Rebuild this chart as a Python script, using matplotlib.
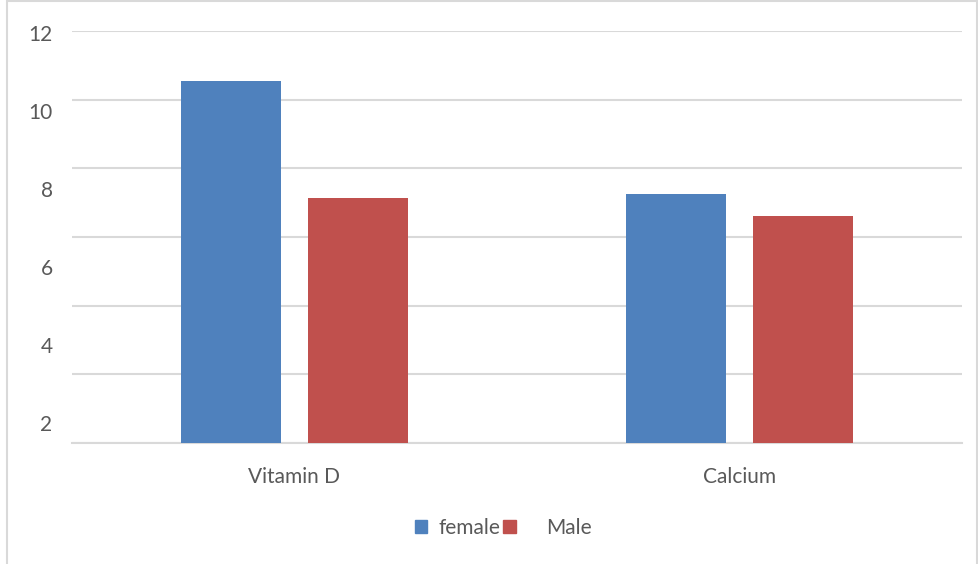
import matplotlib.pyplot as plt
import matplotlib.patches as mpatches
import numpy as np

categories = ["Vitamin D", "Calcium"]
female = [10.53, 7.26]
male = [7.15, 6.62]
tick_labels = [2, 4, 6, 8, 10, 12]

plt.rcParams['font.family'] = ['Lato', 'DejaVu Sans']
text_color = "#595959"
grid_color = "#d9d9d9"
fs = 15

fig = plt.figure(figsize=(9.79, 5.64), dpi=100)
ax = fig.add_axes([72 / 979, 1 - 443 / 564, 890 / 979, 412 / 564])

x = np.arange(len(categories))
width = 0.2247
off = 0.1427
ax.bar(x - off, female, width, color="#4f81bd", label="female", zorder=3)
ax.bar(x + off, male, width, color="#c0504d", label="Male", zorder=3)

ax.set_xlim(-0.5, 1.5)
ax.set_ylim(0, 12)
ax.set_yticks(np.arange(0, 13, 2))
ax.yaxis.grid(True, color=grid_color, linewidth=1.5, zorder=0)
ax.tick_params(axis="y", length=0, labelleft=False)
ax.set_xticks(x)
ax.set_xticklabels(categories, fontsize=fs, color=text_color)
ax.tick_params(axis="x", length=0, pad=17)
for s in ["top", "right", "left"]:
    ax.spines[s].set_visible(False)
ax.spines["bottom"].set_color(grid_color)
ax.spines["bottom"].set_linewidth(1.5)

# value labels on the left sit on their own scale
ax2 = ax.twinx()
ax2.set_ylim(1.487, 12.05)
ax2.set_yticks(tick_labels)
ax2.set_yticklabels([str(t) for t in tick_labels], fontsize=fs, color=text_color)
ax2.yaxis.tick_left()
ax2.tick_params(axis="y", length=0, pad=14)
for s in ax2.spines.values():
    s.set_visible(False)

h1 = mpatches.Patch(color="#4f81bd")
h2 = mpatches.Patch(color="#c0504d")
leg_kw = dict(loc="center left", frameon=False, fontsize=fs,
              handlelength=0.6, handleheight=0.6, borderpad=0,
              borderaxespad=0, labelcolor=text_color)
fig.legend([h1], ["female"], bbox_to_anchor=(415 / 979, 1 - 528 / 564),
           handletextpad=0.55, **leg_kw)
fig.legend([h2], ["Male"], bbox_to_anchor=(503 / 979, 1 - 528 / 564),
           handletextpad=1.45, **leg_kw)

# outer chart frame
fig.patches.append(mpatches.Rectangle((7.5 / 979, -0.1), 970 / 979, 1.1 - 1.5 / 564,
                                      transform=fig.transFigure, fill=False,
                                      edgecolor=grid_color, linewidth=1.5))

fig.savefig("out.png", dpi=100)
